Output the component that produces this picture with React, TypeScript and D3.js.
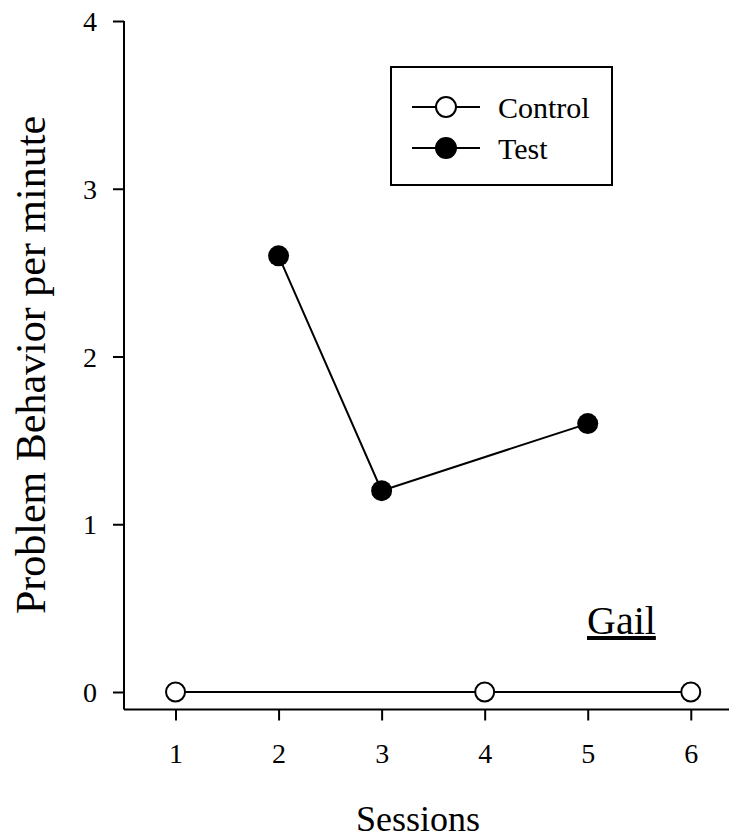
import React, { useEffect, useRef } from "react";
import * as d3 from "d3";

const width = 729;
const height = 838;

const controlSessions = [1, 4, 6];
const controlValues = [0, 0, 0];
const testSessions = [2, 3, 5];
const testValues = [2.6, 1.2, 1.6];
const xTicks = [1, 2, 3, 4, 5, 6];
const yTicks = [0, 1, 2, 3, 4];

const font = "'Liberation Serif', 'Times New Roman', serif";

export default function App() {
  const ref = useRef<SVGSVGElement>(null);

  useEffect(() => {
    const svg = d3.select(ref.current);
    svg.selectAll("*").remove();

    const x = d3.scaleLinear().domain([0.5, 6.4]).range([124, 732]);
    const y = d3.scaleLinear().domain([0, 4]).range([692, 21]);
    const axisY = 709.5;

    // y axis
    const gy = svg.append("g").attr("transform", `translate(${x(0.5)},0)`);
    gy.call(d3.axisLeft(y).tickValues(yTicks).tickFormat(d3.format("d")).tickSize(11).tickSizeOuter(0));
    gy.select(".domain").attr("stroke-width", 2).attr("d", `M0,${y(4)}V${axisY}`);
    gy.selectAll(".tick line").attr("stroke-width", 2);
    gy.selectAll(".tick text")
      .style("font-family", font)
      .style("font-size", "28px")
      .attr("fill", "#000")
      .attr("x", -27)
      .attr("dy", "0.34em");

    // x axis
    const gx = svg.append("g").attr("transform", `translate(0,${axisY})`);
    gx.call(d3.axisBottom(x).tickValues(xTicks).tickFormat(d3.format("d")).tickSize(11).tickSizeOuter(0));
    gx.select(".domain").attr("stroke-width", 2).attr("d", `M${x(0.5)},0H${width + 5}`);
    gx.selectAll(".tick line").attr("stroke-width", 2);
    gx.selectAll(".tick text")
      .style("font-family", font)
      .style("font-size", "28px")
      .attr("fill", "#000")
      .attr("y", 53.5)
      .attr("dy", 0);

    const lineGen = d3
      .line<[number, number]>()
      .x((d) => x(d[0]))
      .y((d) => y(d[1]));

    const control = controlSessions.map((s, i) => [s, controlValues[i]] as [number, number]);
    const test = testSessions.map((s, i) => [s, testValues[i]] as [number, number]);

    svg.append("path").datum(control).attr("d", lineGen).attr("fill", "none").attr("stroke", "#000").attr("stroke-width", 2);
    svg.append("path").datum(test).attr("d", lineGen).attr("fill", "none").attr("stroke", "#000").attr("stroke-width", 2);

    svg
      .selectAll("circle.control")
      .data(control)
      .join("circle")
      .attr("class", "control")
      .attr("cx", (d) => x(d[0]))
      .attr("cy", (d) => y(d[1]))
      .attr("r", 9.5)
      .attr("fill", "#fff")
      .attr("stroke", "#000")
      .attr("stroke-width", 2);

    svg
      .selectAll("circle.test")
      .data(test)
      .join("circle")
      .attr("class", "test")
      .attr("cx", (d) => x(d[0]))
      .attr("cy", (d) => y(d[1]))
      .attr("r", 10.5)
      .attr("fill", "#000");

    // legend
    const lg = svg.append("g");
    lg.append("rect")
      .attr("x", 391)
      .attr("y", 67)
      .attr("width", 221)
      .attr("height", 118)
      .attr("fill", "#fff")
      .attr("stroke", "#000")
      .attr("stroke-width", 2);
    const rows = [
      { label: "Control", fill: "#fff", cy: 107 },
      { label: "Test", fill: "#000", cy: 148 },
    ];
    rows.forEach((r) => {
      lg.append("line").attr("x1", 412).attr("x2", 480).attr("y1", r.cy).attr("y2", r.cy).attr("stroke", "#000").attr("stroke-width", 2);
      lg.append("circle")
        .attr("cx", 446)
        .attr("cy", r.cy)
        .attr("r", 10)
        .attr("fill", r.fill)
        .attr("stroke", "#000")
        .attr("stroke-width", 2);
      lg.append("text")
        .attr("x", 498)
        .attr("y", r.cy)
        .attr("dy", "0.35em")
        .attr("font-family", font)
        .attr("font-size", 30)
        .text(r.label);
    });

    // annotation
    svg
      .append("text")
      .attr("x", 587)
      .attr("y", 634)
      .attr("font-family", font)
      .attr("font-size", 40)
      .attr("text-decoration", "underline")
      .text("Gail");

    // axis titles
    svg
      .append("text")
      .attr("x", 418)
      .attr("y", 831)
      .attr("text-anchor", "middle")
      .attr("font-family", font)
      .attr("font-size", 36)
      .text("Sessions");

    svg
      .append("text")
      .attr("transform", `translate(45,365) rotate(-90)`)
      .attr("text-anchor", "middle")
      .attr("font-family", font)
      .attr("font-size", 42)
      .text("Problem Behavior per minute");
  }, []);

  return (
    <svg
      ref={ref}
      width={width}
      height={height}
      style={{ position: "absolute", left: 0, top: 0, background: "#fff" }}
    />
  );
}
